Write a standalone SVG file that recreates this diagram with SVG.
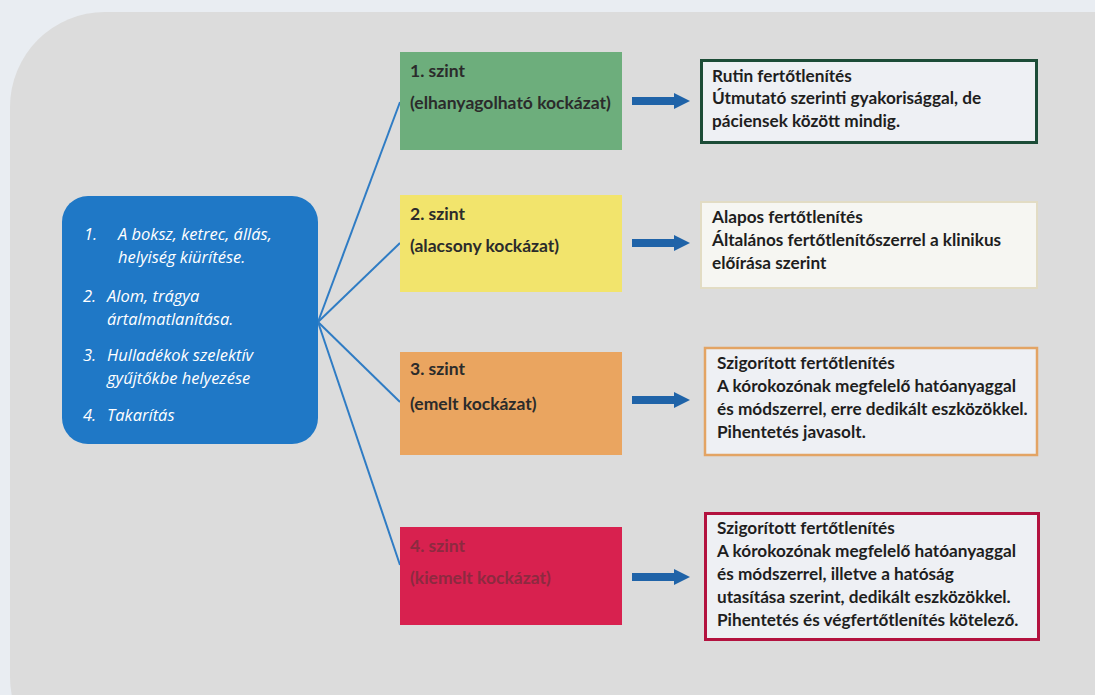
<svg xmlns="http://www.w3.org/2000/svg" width="1095" height="695" viewBox="0 0 1095 695">
<defs>
<style>
.lv{font-family:Lato,"Liberation Sans",sans-serif;font-weight:bold;font-size:17.5px;fill:#2b2b2b}
.lvr{fill:#8c2a40}
.rt{font-family:Lato,"Liberation Sans",sans-serif;font-weight:bold;font-size:17.2px;fill:#1e1e1e}
.bl{font-family:"Open Sans","Liberation Sans",sans-serif;font-style:italic;font-size:16.5px;fill:#ffffff}
.conn{stroke:#2f7cc4;stroke-width:2;fill:none}
.arr{stroke:#1f63a8;stroke-width:8;fill:none}
</style>
<marker id="ah" viewBox="0 0 10 10" refX="5" refY="5" markerWidth="2" markerHeight="2.4" orient="auto" markerUnits="strokeWidth">
<path d="M0,0 L10,5 L0,10 z" fill="#1f63a8"/>
</marker>
</defs>
<rect x="0" y="0" width="1095" height="695" fill="#e9edf2"/>
<rect x="10" y="12" width="1180" height="760" rx="95" fill="#dcdcdc"/>
<g id="connectors">
<path class="conn" d="M318,322 L400,102"/>
<path class="conn" d="M318,322 L400,243"/>
<path class="conn" d="M318,322 L400,402"/>
<path class="conn" d="M318,322 L400,565"/>
<path class="arr" d="M632,101 L682,101" marker-end="url(#ah)"/>
<path class="arr" d="M632,243 L682,243" marker-end="url(#ah)"/>
<path class="arr" d="M632,400 L682,400" marker-end="url(#ah)"/>
<path class="arr" d="M632,577 L682,577" marker-end="url(#ah)"/>
</g>
<g id="tasks">
<rect x="62" y="196" width="256" height="248" rx="26" fill="#1f78c6"/>
<text class="bl" x="84" y="240">1.</text>
<text class="bl" x="118" y="240">A boksz, ketrec, állás,</text>
<text class="bl" x="118" y="263">helyiség kiürítése.</text>
<text class="bl" x="83" y="302">2.</text>
<text class="bl" x="107" y="302">Alom, trágya</text>
<text class="bl" x="107" y="325">ártalmatlanítása.</text>
<text class="bl" x="83" y="361">3.</text>
<text class="bl" x="107" y="361">Hulladékok szelektív</text>
<text class="bl" x="107" y="384">gyűjtőkbe helyezése</text>
<text class="bl" x="83" y="421">4.</text>
<text class="bl" x="107" y="421">Takarítás</text>
</g>
<g id="level1">
<rect x="400" y="52" width="222" height="98" fill="#6dae7c"/>
<text class="lv" x="410" y="77">1. szint</text>
<text class="lv" x="410" y="109">(elhanyagolható kockázat)</text>
</g>
<g id="level2">
<rect x="400" y="195" width="222" height="97" fill="#f2e46c"/>
<text class="lv" x="410" y="220">2. szint</text>
<text class="lv" x="410" y="252">(alacsony kockázat)</text>
</g>
<g id="level3">
<rect x="400" y="352" width="222" height="103" fill="#eaa560"/>
<text class="lv" x="410" y="375">3. szint</text>
<text class="lv" x="410" y="410">(emelt kockázat)</text>
</g>
<g id="level4">
<rect x="400" y="527" width="222" height="98" fill="#d8214f"/>
<text class="lv lvr" x="410" y="552">4. szint</text>
<text class="lv lvr" x="410" y="584">(kiemelt kockázat)</text>
</g>
<g id="action1">
<rect x="701.5" y="60.5" width="335" height="82" fill="#eef0f4" stroke="#1c4c37" stroke-width="3"/>
<text class="rt" x="712" y="82">Rutin fertőtlenítés</text>
<text class="rt" x="712" y="104">Útmutató szerinti gyakorisággal, de</text>
<text class="rt" x="712" y="127">páciensek között mindig.</text>
</g>
<g id="action2">
<rect x="701" y="202" width="336" height="86" fill="#f6f6f2" stroke="#e2dcc4" stroke-width="2"/>
<text class="rt" x="712" y="223">Alapos fertőtlenítés</text>
<text class="rt" x="712" y="246">Általános fertőtlenítőszerrel a klinikus</text>
<text class="rt" x="712" y="269">előírása szerint</text>
</g>
<g id="action3">
<rect x="705" y="348" width="332" height="107" fill="#eef0f4" stroke="#e3a464" stroke-width="2.5"/>
<text class="rt" x="717" y="369">Szigorított fertőtlenítés</text>
<text class="rt" x="717" y="392">A kórokozónak megfelelő hatóanyaggal</text>
<text class="rt" x="717" y="415">és módszerrel, erre dedikált eszközökkel.</text>
<text class="rt" x="717" y="438">Pihentetés javasolt.</text>
</g>
<g id="action4">
<rect x="705.5" y="513.5" width="333" height="126" fill="#eef0f4" stroke="#b3123f" stroke-width="3"/>
<text class="rt" x="717" y="534">Szigorított fertőtlenítés</text>
<text class="rt" x="717" y="557">A kórokozónak megfelelő hatóanyaggal</text>
<text class="rt" x="717" y="580">és módszerrel, illetve a hatóság</text>
<text class="rt" x="717" y="603">utasítása szerint, dedikált eszközökkel.</text>
<text class="rt" x="717" y="626">Pihentetés és végfertőtlenítés kötelező.</text>
</g>
</svg>
